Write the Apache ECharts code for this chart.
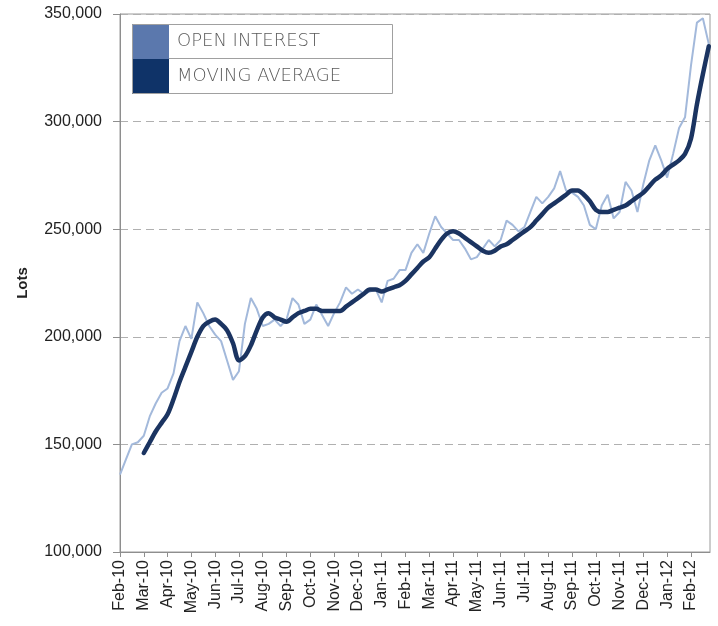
<!DOCTYPE html>
<html>
<head>
<meta charset="utf-8">
<script src="https://cdn.jsdelivr.net/npm/echarts@6/dist/echarts.min.js"></script>
<style>
  html, body { margin: 0; padding: 0; background: #fff; }
  #chart { width: 718px; height: 626px; }
</style>
</head>
<body>
<div id="chart"></div>
<script>
// Month tick labels, one per month starting Feb-10
const monthLabels = ['Feb-10','Mar-10','Apr-10','May-10','Jun-10','Jul-10','Aug-10','Sep-10','Oct-10','Nov-10','Dec-10',
  'Jan-11','Feb-11','Mar-11','Apr-11','May-11','Jun-11','Jul-11','Aug-11','Sep-11','Oct-11','Nov-11','Dec-11',
  'Jan-12','Feb-12'];

// Weekly observations (four per month), in thousands of lots
const openInterest = [136,143,150,151,154,163,169,174,176,183,198,205,199,216,211,205,201,198,189,180,
  184,206,218,213,205,206,208,205,208,218,215,206,208,215,210,205,211,216,223,220,
  222,220,221,222,216,226,227,231,231,239,243,239,248,256,251,248,245,245,241,236,
  237,241,245,242,245,254,252,249,251,258,265,262,265,269,277,268,267,265,261,252,
  250,261,266,255,258,272,268,258,271,282,289,282,274,285,297,302,326,346,348,336];

// Moving average starts with the fifth weekly observation
const maStart = 4;
const movingAverage = [146,151,156,160,164,171,179,186,193,200,205,207,208,206,203,197,
  189,191,196,203,209,211,209,208,207,209,211,212,213,213,212,212,212,212,214,216,
  218,220,222,222,221,222,223,224,226,229,232,235,237,241,245,248,249,248,246,244,
  242,240,239,240,242,243,245,247,249,251,254,257,260,262,264,266,268,268,266,263,
  259,258,258,259,260,261,263,265,267,270,273,275,278,280,282,285,292,308,322,335];

const weeksPerMonth = 4;
const oiData = openInterest.map((v, i) => [i / weeksPerMonth, v * 1000]);
const maData = movingAverage.map((v, i) => [(i + maStart) / weeksPerMonth, v * 1000]);

const chart = echarts.init(document.getElementById('chart'), null, { renderer: 'canvas' });

const axisGray = '#8e8e8e';
const labelFont = '"Liberation Sans", Arial, sans-serif';

chart.setOption({
  animation: false,
  backgroundColor: '#ffffff',
  grid: {
    left: 120, top: 14, right: 8, bottom: 74,
    show: true, borderColor: '#9a9a9a', borderWidth: 1, backgroundColor: 'transparent'
  },
  legend: {
    orient: 'vertical',
    left: 132, top: 24,
    itemWidth: 37, itemHeight: 35, itemGap: 0,
    icon: 'rect',
    selectedMode: false,
    padding: 0,
    textStyle: {
      fontFamily: '"DejaVu Sans", sans-serif',
      fontSize: 18,
      fontWeight: 200,
      color: '#5a5a5a',
      padding: [0, 0, 0, 3]
    },
    data: [
      { name: 'OPEN INTEREST', itemStyle: { color: '#5b78ad' } },
      { name: 'MOVING AVERAGE', itemStyle: { color: '#0f3368' } }
    ]
  },
  graphic: [
    { type: 'rect', shape: { x: 132.5, y: 24.5, width: 260, height: 69 },
      style: { fill: 'none', stroke: '#a0a0a0', lineWidth: 1 }, z: 10 },
    { type: 'line', shape: { x1: 169, y1: 58.5, x2: 392.5, y2: 58.5 },
      style: { stroke: '#a0a0a0', lineWidth: 1 }, z: 10 }
  ],
  xAxis: {
    type: 'value',
    min: 0,
    max: 24.8,
    interval: 1,
    axisLine: { show: true, lineStyle: { color: axisGray, width: 1 } },
    axisTick: { show: true, length: 5, lineStyle: { color: axisGray } },
    splitLine: { show: false },
    axisLabel: {
      rotate: 90,
      margin: 8,
      fontFamily: labelFont,
      fontSize: 16,
      color: '#222222',
      showMaxLabel: false,
      formatter: function (v) {
        return Number.isInteger(v) && v < monthLabels.length ? monthLabels[v] : '';
      }
    }
  },
  yAxis: {
    type: 'value',
    min: 100000,
    max: 350000,
    interval: 50000,
    name: 'Lots',
    nameLocation: 'middle',
    nameRotate: 90,
    nameGap: 90,
    nameTextStyle: { fontFamily: labelFont, fontSize: 15, fontWeight: 'bold', color: '#222222' },
    axisLine: { show: true, lineStyle: { color: axisGray, width: 1 } },
    axisTick: { show: true, length: 7, lineStyle: { color: axisGray } },
    axisLabel: {
      margin: 18,
      fontFamily: labelFont,
      fontSize: 16,
      color: '#222222',
      formatter: function (v) { return v.toLocaleString('en-US'); }
    },
    splitLine: { show: true, lineStyle: { color: '#b0b0b0', type: [8, 5], width: 1 } }
  },
  series: [
    {
      name: 'OPEN INTEREST',
      type: 'line',
      data: oiData,
      showSymbol: false,
      lineStyle: { color: '#a3b9db', width: 2 },
      itemStyle: { color: '#5b78ad' },
      z: 2
    },
    {
      name: 'MOVING AVERAGE',
      type: 'line',
      data: maData,
      showSymbol: false,
      smooth: 0.3,
      lineStyle: { color: '#1b3461', width: 4.5, cap: 'round', join: 'round' },
      itemStyle: { color: '#0f3368' },
      z: 3
    }
  ]
});
</script>
</body>
</html>
